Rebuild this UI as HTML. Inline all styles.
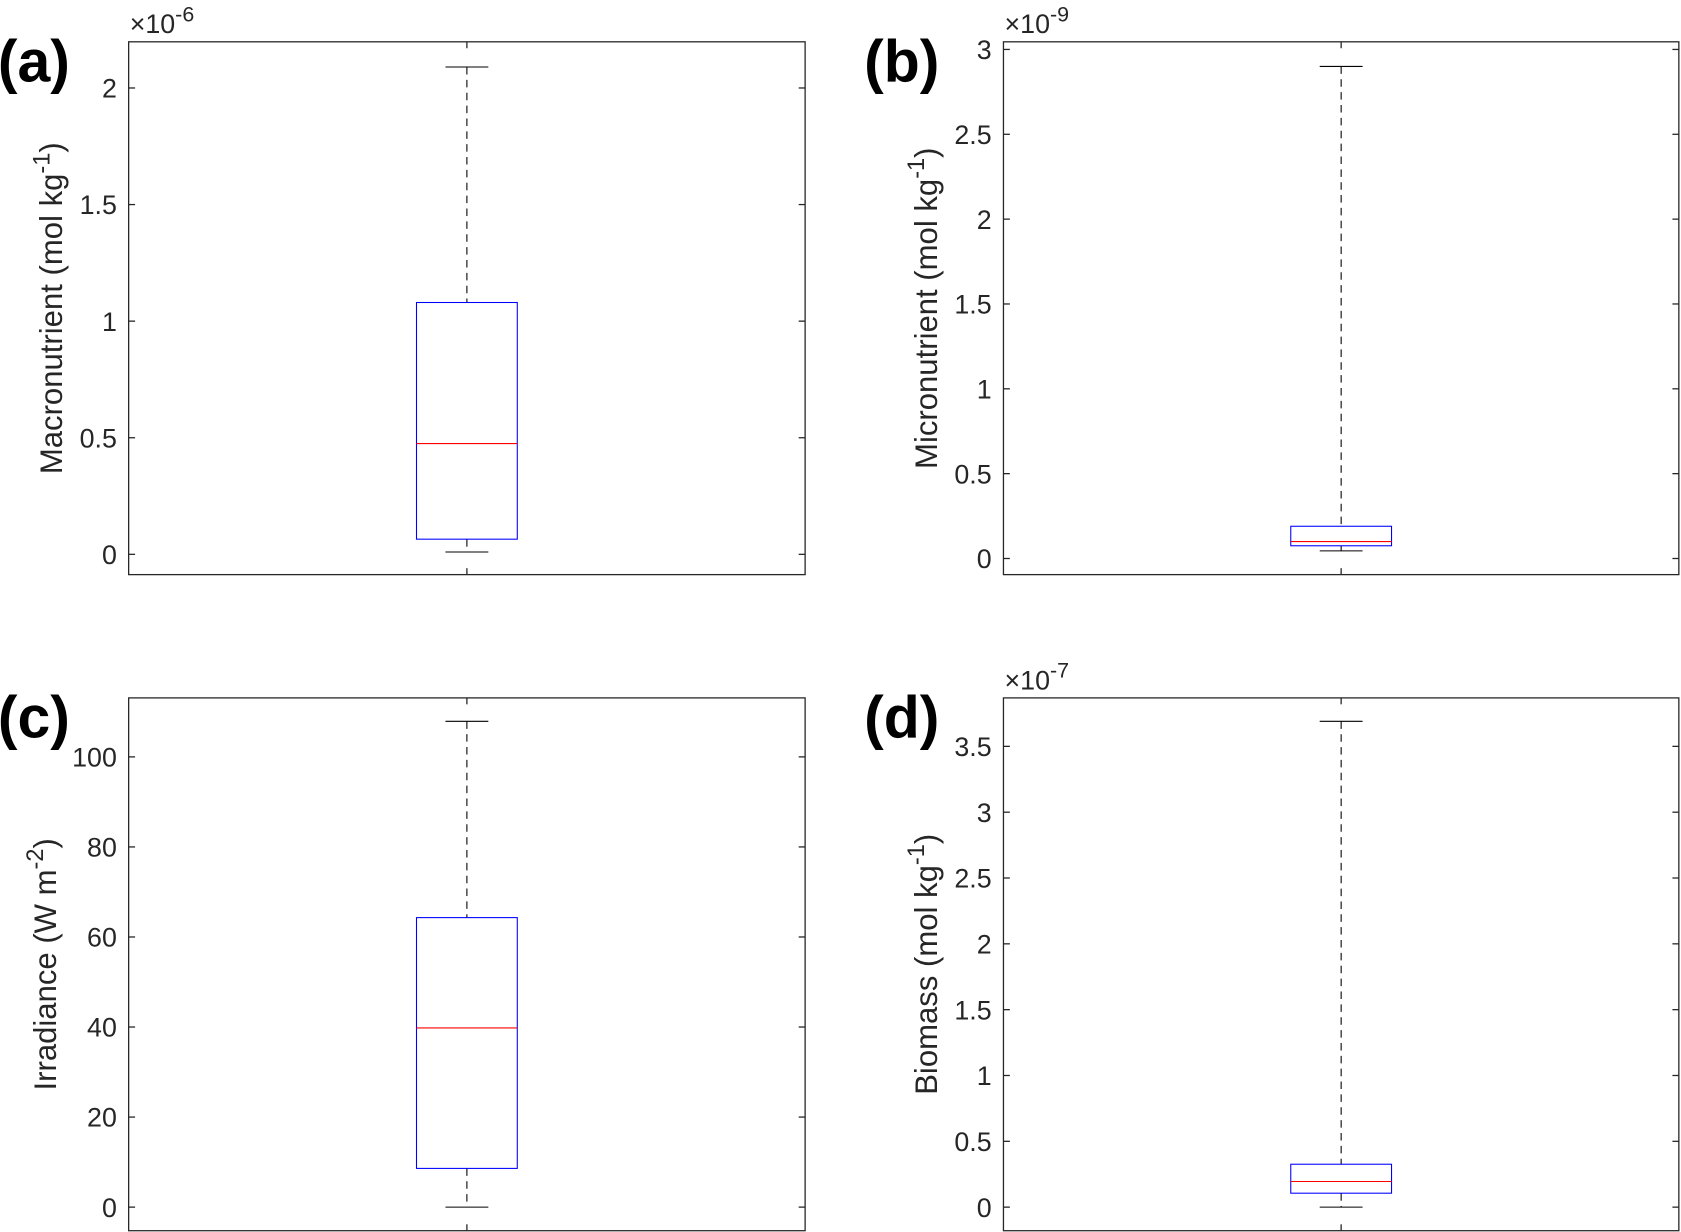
<!DOCTYPE html>
<html><head><meta charset="utf-8"><style>body{margin:0;background:#fff}svg{display:block}text{font-family:"Liberation Sans",Arial,sans-serif}</style></head>
<body>
<svg id="fig" width="1681" height="1232" viewBox="0 0 1568 1149.2" xmlns="http://www.w3.org/2000/svg"></svg>
<script>
const panelLetters=["(a)","(b)","(c)","(d)"];
const yLabels=["Macronutrient (mol kg","Micronutrient (mol kg","Irradiance (W m","Biomass (mol kg"];
const yLabelSups=["-1","-1","-2","-1"];
const exponents=["-6","-9","","-7"];
const whiskerHigh=[2.09,2.9,107.9,3.69];
const q3=[1.08,0.19,64.3,0.326];
const medians=[0.475,0.10,39.8,0.195];
const q1=[0.065,0.075,8.6,0.106];
const whiskerLow=[0.01,0.045,0,0];
const yMins=[-0.087,-0.095,-5.24,-0.179];
const yMaxs=[2.198,3.045,113.1,3.868];
const tickValsA=[0,0.5,1,1.5,2];
const tickValsB=[0,0.5,1,1.5,2,2.5,3];
const tickValsC=[0,20,40,60,80,100];
const tickValsD=[0,0.5,1,1.5,2,2.5,3,3.5];
const tickLists=[tickValsA,tickValsB,tickValsC,tickValsD];
const layout=[{x:120,y:39,w:631,h:497,lx:58,px:-2},{x:936,y:39,w:630,h:497,lx:874,px:806},{x:120,y:651,w:631,h:497,lx:52,px:-2},{x:936,y:651,w:630,h:497,lx:874,px:806}];
const NS="http://www.w3.org/2000/svg";
const svg=document.getElementById('fig');
function el(t,a,p){const e=document.createElementNS(NS,t);for(const k in a)e.setAttribute(k,a[k]);(p||svg).appendChild(e);return e;}
for(let i=0;i<4;i++){
  const L=layout[i];
  const g=el('g',{});
  
  
  const ys=v=>L.y+L.h-(v-yMins[i])/(yMaxs[i]-yMins[i])*L.h;
  const cx=L.x+L.w/2;
  const ax=el('rect',{x:L.x,y:L.y,width:L.w,height:L.h,fill:'none',stroke:'#262626','stroke-width':1.2},g);
  
  
  tickLists[i].forEach(v=>{
    const y=ys(v);
    el('line',{x1:L.x,x2:L.x+6,y1:y,y2:y,stroke:'#262626','stroke-width':1.2},g);
    el('line',{x1:L.x+L.w-6,x2:L.x+L.w,y1:y,y2:y,stroke:'#262626','stroke-width':1.2},g);
    const t=el('text',{x:L.x-11,y:y+9,'text-anchor':'end','font-size':25,fill:'#262626'},g);
    t.textContent=String(v);
    
    
  });
  el('line',{x1:cx,x2:cx,y1:L.y+L.h,y2:L.y+L.h-6,stroke:'#262626','stroke-width':1.2},g);
  el('line',{x1:cx,x2:cx,y1:L.y,y2:L.y+6,stroke:'#262626','stroke-width':1.2},g);
  if(exponents[i]){
    const e=el('text',{x:L.x+1,y:L.y-8,'font-size':25,fill:'#262626'},g);
    e.innerHTML='×10<tspan dy="-11" font-size="20">'+exponents[i]+'</tspan>';
    
    
  }
  const yl=el('text',{transform:`translate(${L.lx},${L.y+L.h/2}) rotate(-90)`,'text-anchor':'middle','font-size':29,fill:'#262626'},g);
  yl.innerHTML=yLabels[i]+'<tspan dy="-12" font-size="22">'+yLabelSups[i]+'</tspan><tspan dy="12">)</tspan>';
  
  
  const pl=el('text',{x:L.px,y:L.y+37,'font-size':55,'font-weight':'bold',fill:'#000'},g);
  pl.textContent=panelLetters[i];
  
  
  const wu=el('line',{x1:cx,x2:cx,y1:ys(whiskerHigh[i]),y2:ys(q3[i]),stroke:'#000','stroke-dasharray':'7,5','stroke-width':1},g);
  
  
  const wl=el('line',{x1:cx,x2:cx,y1:ys(q1[i]),y2:ys(whiskerLow[i]),stroke:'#000','stroke-dasharray':'7,5','stroke-width':1},g);
  
  
  [whiskerHigh[i],whiskerLow[i]].forEach(v=>{
    const c=el('line',{x1:cx-20,x2:cx+20,y1:ys(v),y2:ys(v),stroke:'#000','stroke-width':1},g);
    
    
  });
  const b=el('rect',{x:cx-47,y:ys(q3[i]),width:94,height:ys(q1[i])-ys(q3[i]),fill:'none',stroke:'#0000ff','stroke-width':1},g);
  
  
  const m=el('line',{x1:cx-47,x2:cx+47,y1:ys(medians[i]),y2:ys(medians[i]),stroke:'#ff0000','stroke-width':1},g);
  
  
}
</script>
</body></html>
